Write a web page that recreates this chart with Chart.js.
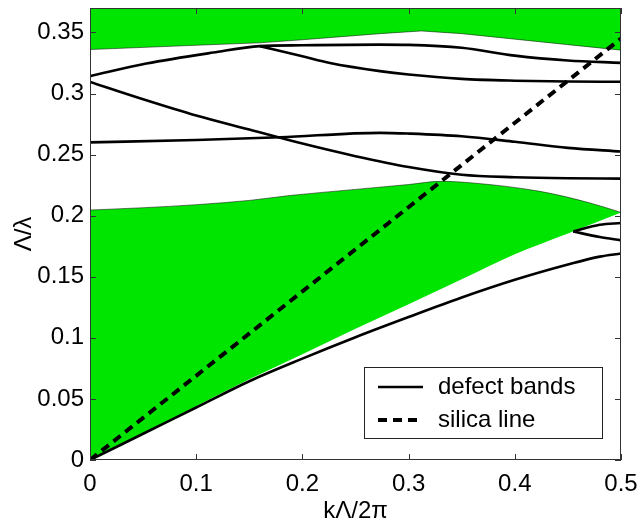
<!DOCTYPE html>
<html>
<head>
<meta charset="utf-8">
<script src="https://cdn.jsdelivr.net/npm/chart.js@4.4.1/dist/chart.umd.min.js"></script>
<style>
  html, body { margin: 0; padding: 0; background: #fff; }
  #wrap { width: 641px; height: 523px; }
</style>
</head>
<body>
<div id="wrap"><canvas id="myChart" width="641" height="523"></canvas></div>
<script>
// tick values and labels
const xTicks = [0, 0.1, 0.2, 0.3, 0.4, 0.5];
const xTickLabels = ["0", "0.1", "0.2", "0.3", "0.4", "0.5"];
const yTicks = [0, 0.05, 0.1, 0.15, 0.2, 0.25, 0.3, 0.35];
const yTickLabels = ["0", "0.05", "0.1", "0.15", "0.2", "0.25", "0.3", "0.35"];

// green regions: [kΛ/2π, Λ/λ]
const upperGapEdge = [[0, 0.336], [0.1, 0.3395], [0.16, 0.3415], [0.2, 0.344], [0.273, 0.349],
  [0.312, 0.3512], [0.35, 0.349], [0.4, 0.3445], [0.45, 0.34], [0.5, 0.3355]];
const lowerBandTop = [[0, 0.2046], [0.05, 0.2065], [0.1, 0.209], [0.15, 0.2125], [0.188, 0.2165],
  [0.25, 0.2215], [0.3, 0.2255], [0.33, 0.2281], [0.36, 0.2268], [0.4237, 0.2199],
  [0.4708, 0.2104], [0.5, 0.2027]];
const lowerBandBottom = [[0, 0], [0.1, 0.044], [0.15, 0.066], [0.2, 0.0865], [0.25, 0.1075],
  [0.3, 0.1275], [0.35, 0.148], [0.4, 0.1685], [0.45, 0.1855], [0.5, 0.2027]];

// defect bands
const band1 = [[0, 0], [0.05, 0.0215], [0.1, 0.043], [0.15, 0.0645], [0.2, 0.083], [0.25, 0.1005],
  [0.3, 0.117], [0.35, 0.133], [0.4, 0.1475], [0.45, 0.16], [0.48, 0.1665], [0.5, 0.169]];
const band2 = [[0.455, 0.1871], [0.48, 0.1825], [0.5, 0.1798]];
const band3 = [[0.455, 0.1871], [0.48, 0.1926], [0.5, 0.194]];
const band4 = [[0, 0.3095], [0.05, 0.2953], [0.1, 0.282], [0.15, 0.2705], [0.2, 0.259],
  [0.25, 0.2487], [0.3, 0.2398], [0.35, 0.2335], [0.4, 0.2315], [0.45, 0.2306], [0.5, 0.2303]];
const band5 = [[0, 0.26], [0.1, 0.262], [0.179, 0.2642], [0.273, 0.2678], [0.3, 0.2672],
  [0.35, 0.265], [0.4, 0.2605], [0.45, 0.2555], [0.5, 0.2525]];
const band6 = [[0.16, 0.3388], [0.2, 0.3305], [0.226, 0.325], [0.273, 0.3183], [0.3, 0.3155],
  [0.35, 0.312], [0.4, 0.3105], [0.45, 0.3098], [0.5, 0.3096]];
const band7 = [[0, 0.3142], [0.053, 0.3245], [0.116, 0.3335], [0.16, 0.3388], [0.2, 0.3395],
  [0.273, 0.34], [0.3, 0.3398], [0.35, 0.3375], [0.4, 0.331], [0.45, 0.327], [0.5, 0.3251]];

// silica light line
const silicaLine = [[0, 0], [0.5, 0.345]];

const legendLabels = ["defect bands", "silica line"];

const FONT = "'Liberation Sans', Arial, Helvetica, sans-serif";
const GREEN = "#00e500";

function pts(arr) {
  return arr.map(p => ({ x: p[0], y: p[1] }));
}

function bandSet(arr) {
  return {
    data: pts(arr),
    borderColor: "#000",
    borderWidth: 2.6,
    pointRadius: 0,
    cubicInterpolationMode: "monotone",
    fill: false,
  };
}

// inward ticks on all four sides, plus the frame, and the boxed legend
const frameAndLegend = {
  id: "frameAndLegend",
  afterDraw(chart) {
    const ctx = chart.ctx;
    const a = chart.chartArea;
    const xs = chart.scales.x;
    const ys = chart.scales.y;
    ctx.save();
    ctx.strokeStyle = "#333";
    ctx.lineWidth = 1;
    ctx.strokeRect(a.left + 0.5, a.top + 0.5, a.right - a.left - 1, a.bottom - a.top - 1);
    ctx.beginPath();
    xTicks.forEach(v => {
      const px = Math.round(xs.getPixelForValue(v)) + 0.5;
      ctx.moveTo(px, a.bottom);
      ctx.lineTo(px, a.bottom - 6);
      ctx.moveTo(px, a.top);
      ctx.lineTo(px, a.top + 6);
    });
    yTicks.forEach(v => {
      const py = Math.round(ys.getPixelForValue(v)) + 0.5;
      ctx.moveTo(a.left, py);
      ctx.lineTo(a.left + 6, py);
      ctx.moveTo(a.right, py);
      ctx.lineTo(a.right - 6, py);
    });
    ctx.stroke();

    // legend box
    const bx = 364, by = 367, bw = 238, bh = 71;
    ctx.fillStyle = "#fff";
    ctx.fillRect(bx, by, bw, bh);
    ctx.strokeStyle = "#222";
    ctx.strokeRect(bx + 0.5, by + 0.5, bw, bh);
    ctx.font = "24px " + FONT;
    ctx.textBaseline = "middle";
    ctx.fillStyle = "#000";
    ctx.strokeStyle = "#000";
    legendLabels.forEach((label, i) => {
      const ds = chart.data.datasets.find(d => d.label === label);
      const ly = by + 20 + i * 33;
      ctx.lineWidth = ds.borderWidth;
      ctx.setLineDash(ds.borderDash || []);
      ctx.beginPath();
      ctx.moveTo(bx + 14, ly);
      ctx.lineTo(bx + 59, ly);
      ctx.stroke();
      ctx.setLineDash([]);
      ctx.fillText(label, bx + 74, ly);
    });
    ctx.restore();
  },
};

const ctx = document.getElementById("myChart").getContext("2d");
const myChart = new Chart(ctx, {
  type: "line",
  data: {
    datasets: [
      {
        label: "silica line",
        data: pts(silicaLine),
        borderColor: "#000",
        borderWidth: 4,
        borderDash: [9, 6],
        pointRadius: 0,
        fill: false,
      },
      Object.assign(bandSet(band1), { label: "defect bands" }),
      bandSet(band2),
      bandSet(band3),
      bandSet(band4),
      bandSet(band5),
      bandSet(band6),
      bandSet(band7),
      {
        label: "upper gap edge",
        data: pts(upperGapEdge),
        borderColor: "rgba(0,0,0,0.5)",
        borderWidth: 1,
        pointRadius: 0,
        backgroundColor: GREEN,
        fill: "end",
      },
      {
        label: "lower band top",
        data: pts(lowerBandTop),
        borderColor: "rgba(0,0,0,0.5)",
        borderWidth: 1,
        pointRadius: 0,
        backgroundColor: GREEN,
        cubicInterpolationMode: "monotone",
        fill: "+1",
      },
      {
        label: "lower band bottom",
        data: pts(lowerBandBottom),
        borderWidth: 0,
        borderColor: "rgba(0,0,0,0)",
        pointRadius: 0,
        cubicInterpolationMode: "monotone",
        fill: false,
      },
    ],
  },
  options: {
    responsive: false,
    animation: false,
    layout: { padding: { top: 8, right: 20, left: 0, bottom: 0 } },
    plugins: {
      legend: { display: false },
      tooltip: { enabled: false },
    },
    scales: {
      x: {
        type: "linear",
        min: 0,
        max: 0.5,
        afterBuildTicks: s => { s.ticks = xTicks.map(v => ({ value: v })); },
        afterFit: s => { s.height = 63; s.paddingLeft = 0; s.paddingRight = 0; },
        grid: { display: false, drawTicks: false },
        border: { display: false },
        ticks: {
          color: "#000",
          padding: 10,
          maxRotation: 0,
          font: { family: FONT, size: 24 },
          callback: (v, i) => xTickLabels[i],
        },
        title: {
          display: true,
          text: "kΛ/2π",
          color: "#000",
          padding: { top: 0, bottom: 0 },
          font: { family: FONT, size: 24, lineHeight: 1 },
        },
      },
      y: {
        type: "linear",
        min: 0,
        max: 0.37,
        afterBuildTicks: s => { s.ticks = yTicks.map(v => ({ value: v })); },
        afterFit: s => { s.width = 90; s.paddingTop = 0; s.paddingBottom = 0; },
        grid: { display: false, drawTicks: false },
        border: { display: false },
        ticks: {
          color: "#000",
          padding: 6,
          font: { family: FONT, size: 24 },
          callback: (v, i) => yTickLabels[i],
        },
        title: {
          display: true,
          text: "Λ/λ",
          color: "#000",
          padding: { top: 12, bottom: 0 },
          font: { family: FONT, size: 24, lineHeight: 1 },
        },
      },
    },
  },
  plugins: [frameAndLegend],
});
</script>
</body>
</html>
